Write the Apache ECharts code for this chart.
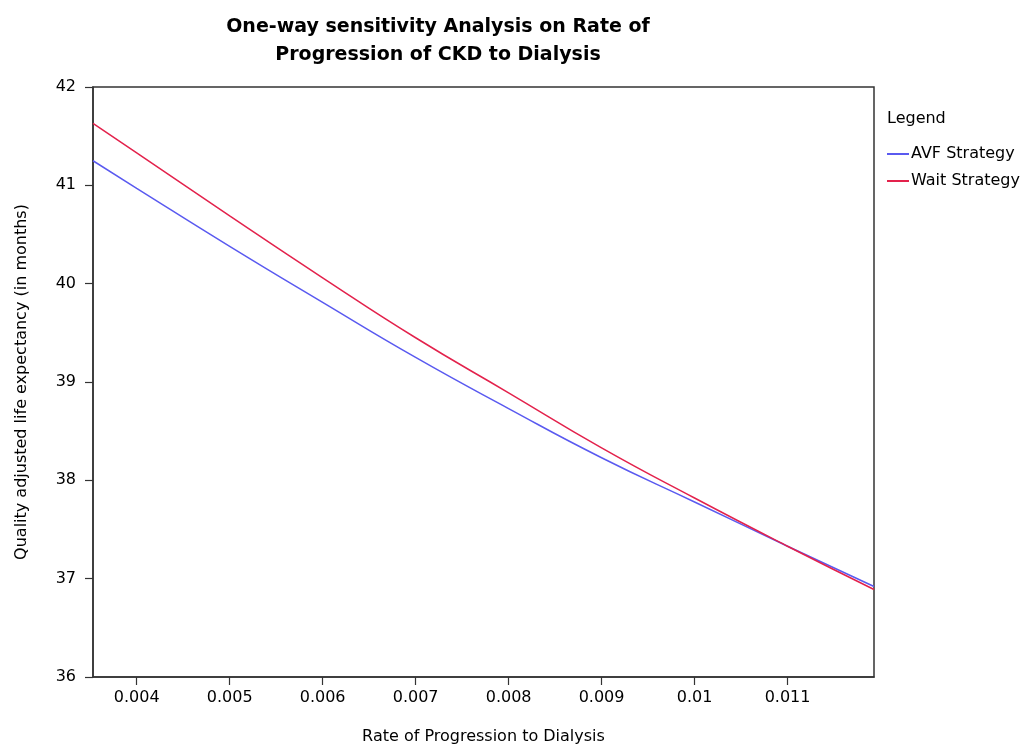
<!DOCTYPE html>
<html>
<head>
<meta charset="utf-8">
<script src="https://cdn.jsdelivr.net/npm/echarts@6/dist/echarts.min.js"></script>
<style>html,body{margin:0;padding:0;background:#fff;}#c{width:1025px;height:749px;}</style>
</head>
<body>
<div id="c"></div>
<script>
var rates = [0.00353, 0.004, 0.005, 0.006, 0.007, 0.008, 0.009, 0.010, 0.011, 0.01193];
var avfStrategy = [41.25, 40.97, 40.38, 39.81, 39.25, 38.73, 38.23, 37.78, 37.33, 36.92];
var waitStrategy = [41.63, 41.33, 40.69, 40.06, 39.45, 38.89, 38.33, 37.82, 37.33, 36.89];
var xTicks = [0.004, 0.005, 0.006, 0.007, 0.008, 0.009, 0.01, 0.011];
var xTickLabels = ['0.004', '0.005', '0.006', '0.007', '0.008', '0.009', '0.01', '0.011'];
var seriesNames = ['AVF Strategy', 'Wait Strategy'];

var FONT = '"DejaVu Sans", sans-serif';
function pairs(xs, ys) { return xs.map(function (x, i) { return [x, ys[i]]; }); }

var chart = echarts.init(document.getElementById('c'), null, { renderer: 'canvas' });
chart.setOption({
  backgroundColor: '#ffffff',
  animation: false,
  title: [{
    text: 'One-way sensitivity Analysis on Rate of\nProgression of CKD to Dialysis',
    left: 433, top: 8, textAlign: 'center',
    textStyle: { fontFamily: FONT, fontSize: 19, fontWeight: 'bold', color: '#000', lineHeight: 28 }
  }, {
    text: 'Legend', left: 882, top: 106,
    textStyle: { fontFamily: FONT, fontSize: 16, fontWeight: 'normal', color: '#000' }
  }],
  legend: {
    orient: 'vertical', left: 882, top: 141, itemGap: 11,
    itemWidth: 22, itemHeight: 2, icon: 'rect',
    textStyle: { fontFamily: FONT, fontSize: 16, color: '#000', padding: [0, 0, 0, -3] },
    data: seriesNames
  },
  grid: { left: 93, top: 87, right: 151, bottom: 72, outerBoundsMode: 'none', containLabel: false, show: true, borderColor: '#333', borderWidth: 1.5, backgroundColor: '#fff' },
  xAxis: {
    type: 'value', min: 0.00353, max: 0.01193,
    name: 'Rate of Progression to Dialysis', nameLocation: 'middle', nameGap: 52,
    nameTextStyle: { fontFamily: FONT, fontSize: 16, color: '#000' },
    axisLine: { show: true, lineStyle: { color: '#333', width: 1.5 } },
    axisTick: { show: true, length: 8, lineStyle: { color: '#333', width: 1.2 }, customValues: xTicks },
    axisLabel: {
      fontFamily: FONT, fontSize: 16, color: '#000', margin: 13, customValues: xTicks,
      formatter: function (v) { var i = xTicks.findIndex(function (t) { return Math.abs(t - v) < 1e-9; }); return i >= 0 ? xTickLabels[i] : ''; }
    },
    splitLine: { show: false }
  },
  yAxis: {
    type: 'value', min: 36, max: 42, interval: 1,
    name: 'Quality adjusted life expectancy (in months)', nameLocation: 'middle', nameGap: 63, nameRotate: 90,
    nameTextStyle: { fontFamily: FONT, fontSize: 16, color: '#000' },
    axisLine: { show: true, lineStyle: { color: '#333', width: 1.5 } },
    axisTick: { show: true, length: 8, lineStyle: { color: '#333', width: 1.2 } },
    axisLabel: { fontFamily: FONT, fontSize: 16, color: '#000', margin: 17 },
    splitLine: { show: false }
  },
  series: [{
    name: seriesNames[0], type: 'line', smooth: true, showSymbol: false,
    data: pairs(rates, avfStrategy),
    lineStyle: { color: '#5a5af0', width: 1.5 }, itemStyle: { color: '#5a5af0' }
  }, {
    name: seriesNames[1], type: 'line', smooth: true, showSymbol: false,
    data: pairs(rates, waitStrategy),
    lineStyle: { color: '#e3224c', width: 1.5 }, itemStyle: { color: '#e3224c' }
  }]
});
</script>
</body>
</html>
